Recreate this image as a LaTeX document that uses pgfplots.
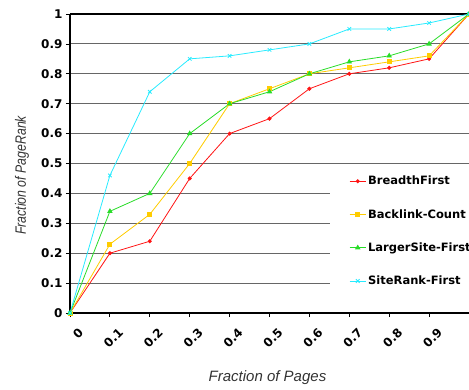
\documentclass[border=0pt]{standalone}
\usepackage{fontspec}
\setmainfont{DejaVu Sans}
\newfontfamily\labfont{Liberation Sans}
\usepackage{pgfplots}
\pgfplotsset{compat=1.18}
\definecolor{cred}{RGB}{255,20,20}
\definecolor{cyel}{RGB}{255,204,0}
\definecolor{cgrn}{RGB}{40,220,40}
\definecolor{ccyn}{RGB}{40,235,255}
\begin{document}
\begin{tikzpicture}[x=1pt,y=1pt]
\useasboundingbox (-70,-76) rectangle (399,313);
\begin{axis}[
  at={(0,0)}, anchor=south west,
  scale only axis, width=399pt, height=299pt,
  xmin=0, xmax=1, ymin=0, ymax=1,
  separate axis lines,
  axis x line*=box, axis y line*=left,
  axis line style={line width=1.8pt, black},
  xtick={0,0.1,0.2,0.3,0.4,0.5,0.6,0.7,0.8,0.9,1},
  xticklabels={0,0.1,0.2,0.3,0.4,0.5,0.6,0.7,0.8,0.9,1},
  ytick={0,0.1,0.2,0.3,0.4,0.5,0.6,0.7,0.8,0.9,1},
  yticklabels={0,0.1,0.2,0.3,0.4,0.5,0.6,0.7,0.8,0.9,1},
  xtick pos=lower, ytick pos=left,
  tick align=outside,
  major tick length=4pt,
  tick style={black, line width=0.8pt},
  ymajorgrids,
  major grid style={black!60, line width=0.9pt},
  /pgf/number format/assume math mode=true,
  ticklabel style={font=\bfseries\fontsize{12}{14}\selectfont, text=black},
  xticklabel style={rotate=45, anchor=east, xshift=2pt, yshift=-17pt},
  xlabel={\labfont\itshape\fontsize{15}{17}\selectfont Fraction of Pages},
  ylabel={\scalebox{0.82}[1]{\labfont\itshape\fontsize{15}{17}\selectfont Fraction of PageRank}},
  every axis x label/.style={at={(axis description cs:0.495,-0.217)}, anchor=center, text=black!80},
  every axis y label/.style={at={(axis description cs:-0.12,0.46)}, anchor=center, rotate=90, text=black!80},
  legend style={at={(rel axis cs:0.652,0.485)}, anchor=north west, draw=none, fill=white,
    font=\bfseries\fontsize{11.5}{13}\selectfont, row sep=19pt,
    inner xsep=19pt, inner ysep=6pt},
  legend cell align=left,
  legend image code/.code={\draw[mark repeat=2,mark phase=2] plot coordinates {(0pt,0pt)(8pt,0pt)(16pt,0pt)};},
  every axis plot/.append style={line width=0.8pt},
]
\addplot[cred, mark=*, mark size=1.6pt] coordinates {(0,0)(0.1,0.20)(0.2,0.24)(0.3,0.45)(0.4,0.60)(0.5,0.65)(0.6,0.75)(0.7,0.80)(0.8,0.82)(0.9,0.85)(1,1)};
\addlegendentry{BreadthFirst}
\addplot[cyel, mark=square*, mark size=2pt] coordinates {(0,0)(0.1,0.23)(0.2,0.33)(0.3,0.50)(0.4,0.70)(0.5,0.75)(0.6,0.80)(0.7,0.82)(0.8,0.84)(0.9,0.86)(1,1)};
\addlegendentry{Backlink-Count}
\addplot[cgrn, mark=triangle*, mark size=2.4pt] coordinates {(0,0)(0.1,0.34)(0.2,0.40)(0.3,0.60)(0.4,0.70)(0.5,0.74)(0.6,0.80)(0.7,0.84)(0.8,0.86)(0.9,0.90)(1,1)};
\addlegendentry{LargerSite-First}
\addplot[ccyn, mark=x, mark size=2.5pt] coordinates {(0,0)(0.1,0.46)(0.2,0.74)(0.3,0.85)(0.4,0.86)(0.5,0.88)(0.6,0.90)(0.7,0.95)(0.8,0.95)(0.9,0.97)(1,1)};
\addlegendentry{SiteRank-First}
\end{axis}
\end{tikzpicture}
\end{document}
